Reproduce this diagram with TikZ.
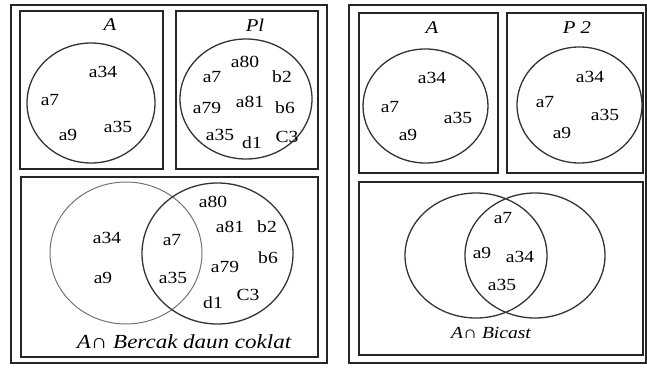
\documentclass[tikz,border=0pt]{standalone}
\usepackage{fontspec}
\setmainfont{Liberation Serif}[FakeStretch=1.15]
\begin{document}
\begin{tikzpicture}[x=1pt,y=-1pt,
  frame/.style={draw=black!85,line width=1.6pt},
  box/.style={draw=black!85,line width=1.5pt},
  ring/.style={draw=black!80,line width=1.3pt},
  lightring/.style={draw=black!55,line width=1pt},
  el/.style={font=\fontsize{17}{17}\selectfont,inner sep=0pt},
  ttl/.style={font=\fontsize{18}{18}\selectfont\itshape,inner sep=0pt},
  captext/.style={font=\fontsize{20}{20}\selectfont\itshape,inner sep=0pt}]
\useasboundingbox (0,0) rectangle (647,367);
% ---------- left panel ----------
\draw[frame] (11,5) rectangle (327,363);
\draw[box] (20,11) rectangle (163,169);
\draw[box] (176,11) rectangle (318,169);
\draw[box] (21,177) rectangle (318,357);
\node[ttl] (tA1) at (110,25) {A};
\node[ttl] (tP1) at (255,25) {Pl};
\draw[ring] (91,103) ellipse [x radius=64, y radius=60];
\node[el] (l1) at (103,72) {a34};
\node[el] (l2) at (50,100) {a7};
\node[el] (l3) at (68,135) {a9};
\node[el] (l4) at (118,127) {a35};
\draw[ring] (246,99) ellipse [x radius=66, y radius=60];
\node[el] (p1) at (245,62) {a80};
\node[el] (p2) at (212,77) {a7};
\node[el] (p3) at (282,77) {b2};
\node[el] (p4) at (207,108) {a79};
\node[el] (p5) at (250,102) {a81};
\node[el] (p6) at (285,108) {b6};
\node[el] (p7) at (220,135) {a35};
\node[el] (p8) at (252,143) {d1};
\node[el] (p9) at (287,137) {C3};
\draw[lightring] (126,253) ellipse [x radius=76, y radius=71];
\draw[ring] (217.5,253.5) ellipse [x radius=75.5, y radius=70.5];
\node[el] (v1) at (107,238) {a34};
\node[el] (v2) at (103,278) {a9};
\node[el] (v3) at (172,240) {a7};
\node[el] (v4) at (173,278) {a35};
\node[el] (v5) at (213,202) {a80};
\node[el] (v6) at (230,227) {a81};
\node[el] (v7) at (267,227) {b2};
\node[el] (v8) at (225,267) {a79};
\node[el] (v9) at (268,258) {b6};
\node[el] (v10) at (213,303) {d1};
\node[el] (v11) at (248,295) {C3};
\node[captext] (c1) at (184,342) {A∩ Bercak daun coklat};
% ---------- right panel ----------
\draw[frame] (349,5) rectangle (646,363);
\draw[box] (359,13) rectangle (498,173);
\draw[box] (507,13) rectangle (643,173);
\draw[box] (359,182) rectangle (643,355);
\node[ttl] (tA2) at (432,28) {A};
\node[ttl] (tP2) at (577,28) {P 2};
\draw[ring] (425.5,106) ellipse [x radius=62.5, y radius=57];
\node[el] (r1) at (432,78) {a34};
\node[el] (r2) at (390,107) {a7};
\node[el] (r3) at (458,118) {a35};
\node[el] (r4) at (408,135) {a9};
\draw[ring] (579.5,105) ellipse [x radius=62.5, y radius=58];
\node[el] (q1) at (590,77) {a34};
\node[el] (q2) at (545,102) {a7};
\node[el] (q3) at (605,115) {a35};
\node[el] (q4) at (562,133) {a9};
\draw[ring] (476,255.5) ellipse [x radius=71, y radius=62.5];
\draw[ring] (535,255.5) ellipse [x radius=70, y radius=62.5];
\node[el] (w1) at (503,218) {a7};
\node[el] (w2) at (482,253) {a9};
\node[el] (w3) at (520,257) {a34};
\node[el] (w4) at (502,285) {a35};
\node[font=\fontsize{17}{17}\selectfont\itshape,inner sep=0pt] (c2) at (491,333) {A∩ Bicast};
\end{tikzpicture}
\end{document}
